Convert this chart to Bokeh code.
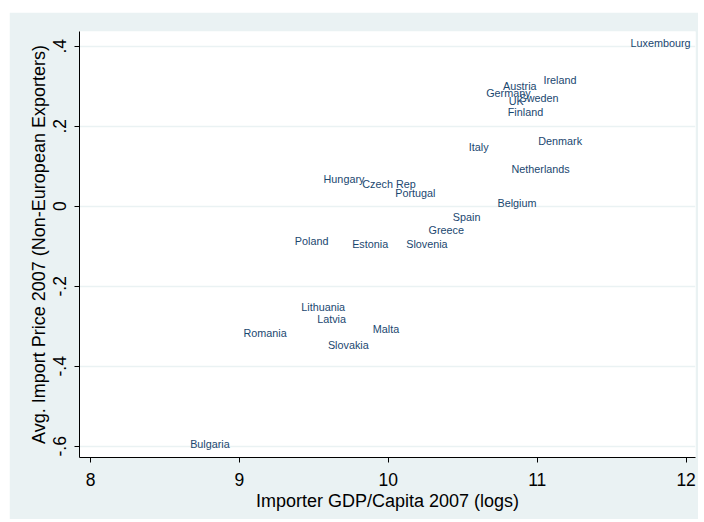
from bokeh.plotting import figure
from bokeh.models import ColumnDataSource, Range1d, FixedTicker, CustomJSTickFormatter
from bokeh.core.properties import value
from bokeh.embed import file_html
from bokeh.resources import INLINE

countries = ["Luxembourg", "Ireland", "Austria", "Germany", "UK", "Sweden", "Finland",
             "Denmark", "Italy", "Netherlands", "Belgium", "Spain", "Greece", "Slovenia",
             "Estonia", "Poland", "Hungary", "Czech Rep", "Portugal", "Lithuania", "Latvia",
             "Romania", "Malta", "Slovakia", "Bulgaria"]
gdp_logs = [11.607, 11.022, 10.750, 10.637, 10.789, 10.861, 10.782,
            10.987, 10.520, 10.807, 10.713, 10.413, 10.250, 10.100,
            9.737, 9.352, 9.545, 9.805, 10.026, 9.395, 9.502,
            9.007, 9.876, 9.574, 8.649]
import_price = [0.407, 0.315, 0.300, 0.282, 0.2625, 0.271, 0.236,
                0.164, 0.1485, 0.092, 0.009, -0.0266, -0.059, -0.0933,
                -0.0933, -0.088, 0.0685, 0.056, 0.032, -0.2525, -0.2815,
                -0.3165, -0.3065, -0.346, -0.594]
x_ticks = [8, 9, 10, 11, 12]
y_ticks = [-0.6, -0.4, -0.2, 0, 0.2, 0.4]

FONT = "Liberation Sans"
BG = "#EAF2F3"

src = ColumnDataSource(dict(x=gdp_logs, y=import_price, name=countries))

p = figure(width=689, height=507, output_backend="svg", toolbar_location=None,
           x_range=Range1d(7.926, 12.063), y_range=Range1d(-0.628, 0.4367),
           min_border_left=70, min_border_top=19, min_border_right=3, min_border_bottom=62)
p.margin = (12, 0, 0, 9)
p.border_fill_color = BG
p.background_fill_color = "white"
p.outline_line_color = None

p.text(x="x", y="y", text="name", source=src, x_offset=3,
       text_baseline="middle", text_align="left",
       text_font=value(FONT), text_font_size="10.8px", text_color="#1a476f")

p.xaxis.ticker = FixedTicker(ticks=x_ticks)
p.yaxis.ticker = FixedTicker(ticks=y_ticks)
p.yaxis.formatter = CustomJSTickFormatter(code="""
const s = tick.toFixed(1);
if (s == "0.0" || s == "-0.0") return "0";
return s.replace("0.", ".");
""")
p.yaxis.major_label_orientation = "vertical"

for ax in (p.xaxis[0], p.yaxis[0]):
    ax.axis_line_color = "black"
    ax.axis_line_width = 1
    ax.major_tick_line_color = "black"
    ax.major_tick_out = 5
    ax.major_tick_in = 0
    ax.minor_tick_line_color = None
    ax.major_label_text_font = FONT
    ax.major_label_text_font_size = "17.5px"
    ax.major_label_text_color = "black"
    ax.axis_label_text_font = FONT
    ax.axis_label_text_font_size = "18px"
    ax.axis_label_text_font_style = "normal"
    ax.axis_label_text_color = "black"

p.xaxis.axis_label = "Importer GDP/Capita 2007 (logs)"
p.yaxis.axis_label = "Avg. Import Price 2007 (Non-European Exporters)"
p.xaxis.major_label_standoff = 10
p.xaxis.axis_label_standoff = 2
p.yaxis.major_label_standoff = 8
p.yaxis.axis_label_standoff = 2

p.xgrid.visible = False
p.ygrid.grid_line_color = BG
p.ygrid.grid_line_width = 1.5

open("out.html", "w").write(file_html(p, INLINE))
